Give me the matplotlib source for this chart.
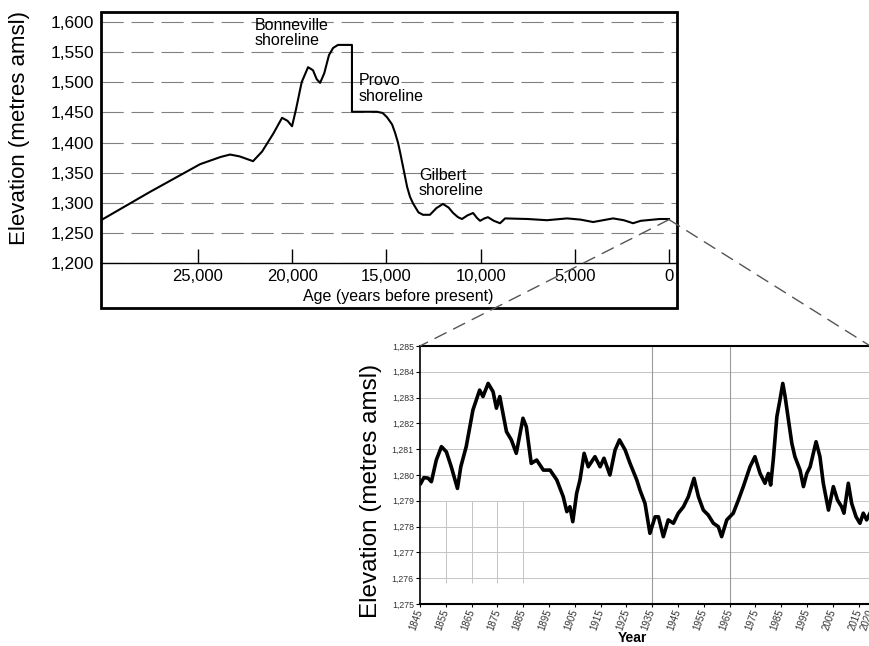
import matplotlib.pyplot as plt
from matplotlib.patches import Rectangle, ConnectionPatch
from matplotlib.ticker import FuncFormatter

plt.rcParams['font.family'] = ['Liberation Sans', 'DejaVu Sans']

# Lake Bonneville: age (years before present) vs. elevation (m)
age_bp = [30150, 27550, 24890, 23800, 23300, 22800, 22080, 21600, 21000, 20540,
          20250, 20010, 19800, 19500, 19160, 18900, 18700, 18520, 18300, 18050,
          17830, 17570, 16830, 16830, 15500, 15200, 14970, 14700, 14540, 14380,
          14250, 14120, 13900, 13750, 13590, 13300, 13060, 12690, 12350, 12000,
          11700, 11460, 11200, 10990, 10700, 10400, 10200, 10030, 9800, 9610,
          9300, 8970, 8700, 7500, 6480, 5410, 4700, 4030, 3500, 2970,
          2400, 1910, 1500, 1170, 500, 0]
lake_elev = [1271, 1318, 1364, 1376, 1380, 1377, 1369, 1385, 1415, 1441,
             1436, 1427, 1455, 1500, 1525, 1520, 1505, 1499, 1515, 1545,
             1557, 1562, 1562, 1451, 1451, 1449, 1442, 1430, 1416, 1399,
             1380, 1360, 1326, 1310, 1299, 1284, 1280, 1280, 1291, 1298,
             1292, 1283, 1276, 1273, 1279, 1283, 1275, 1270, 1274, 1276,
             1270, 1266, 1274, 1273, 1271, 1274, 1272, 1268, 1271, 1274,
             1271, 1266, 1270, 1271, 1273, 1273]

elev_ticks = [1200, 1250, 1300, 1350, 1400, 1450, 1500, 1550, 1600]
age_ticks = [25000, 20000, 15000, 10000, 5000, 0]

shorelines = ["Bonneville\nshoreline", "Provo\nshoreline", "Gilbert\nshoreline"]
shoreline_age = [21975, 16455, 13270]
shoreline_elev = [1607, 1515, 1358]

# Great Salt Lake: historic water level
year = [1845.3, 1846.5, 1848.1, 1849.4, 1851.3, 1853.3, 1855.2, 1857.1, 1859.5, 1860.8,
        1862.9, 1865.5, 1868.1, 1869.4, 1871.4, 1873.3, 1874.6, 1875.9, 1878.5, 1880.4,
        1882.3, 1884.9, 1886.2, 1888.1, 1890.2, 1892.8, 1895.4, 1898.0, 1900.5, 1901.9,
        1903.1, 1904.2, 1905.7, 1907.0, 1908.6, 1910.2, 1912.8, 1914.8, 1916.3, 1918.6,
        1920.6, 1922.3, 1924.5, 1926.4, 1929.0, 1930.3, 1932.2, 1934.1, 1936.1, 1937.4,
        1939.3, 1941.2, 1943.2, 1945.1, 1947.1, 1949.0, 1951.2, 1952.9, 1954.8, 1956.7,
        1958.7, 1960.6, 1961.9, 1963.9, 1966.4, 1968.4, 1970.3, 1972.9, 1974.8, 1976.8,
        1978.7, 1980.0, 1980.9, 1981.9, 1983.3, 1984.5, 1985.6, 1986.5, 1987.8, 1989.1,
        1990.3, 1992.3, 1993.6, 1994.9, 1996.2, 1998.5, 2000.0, 2001.3, 2003.3, 2005.2,
        2006.8, 2008.4, 2009.3, 2011.0, 2012.3, 2014.0, 2015.5, 2016.8, 2018.1, 2019.4]
level = [1279.68, 1279.90, 1279.88, 1279.74, 1280.58, 1281.10, 1280.90, 1280.32, 1279.48, 1280.32,
         1281.10, 1282.52, 1283.29, 1283.04, 1283.55, 1283.23, 1282.59, 1283.04, 1281.68, 1281.36,
         1280.84, 1282.20, 1281.87, 1280.45, 1280.58, 1280.19, 1280.19, 1279.81, 1279.16, 1278.58,
         1278.77, 1278.19, 1279.29, 1279.81, 1280.84, 1280.32, 1280.71, 1280.32, 1280.65, 1280.00,
         1280.97, 1281.36, 1280.97, 1280.45, 1279.81, 1279.40, 1278.90, 1277.74, 1278.38, 1278.38,
         1277.61, 1278.26, 1278.13, 1278.52, 1278.77, 1279.16, 1279.87, 1279.16, 1278.64, 1278.45,
         1278.13, 1278.00, 1277.61, 1278.26, 1278.52, 1279.03, 1279.55, 1280.32, 1280.71, 1280.06,
         1279.68, 1280.06, 1279.61, 1280.58, 1282.26, 1282.91, 1283.55, 1283.04, 1282.13, 1281.23,
         1280.71, 1280.19, 1279.55, 1280.06, 1280.32, 1281.29, 1280.71, 1279.68, 1278.64, 1279.55,
         1279.03, 1278.77, 1278.52, 1279.68, 1278.90, 1278.38, 1278.13, 1278.52, 1278.26, 1278.52]

level_ticks = list(range(1275, 1286))
year_ticks = list(range(1845, 2016, 10)) + [2020]

comma = FuncFormatter(lambda v, pos: f"{v:,.0f}")

fig = plt.figure(figsize=(8.7, 6.46), dpi=100)

# ---- top panel: Lake Bonneville ----
ax1 = fig.add_axes([0.1161, 0.5929, 0.6621, 0.3885])
ax1.plot(age_bp, lake_elev, color='black', lw=1.5, zorder=3)
ax1.set_xlim(30150, -425)
ax1.set_ylim(1200, 1616.6)
ax1.set_yticks(elev_ticks)
ax1.set_xticks(age_ticks)
ax1.yaxis.set_major_formatter(comma)
ax1.xaxis.set_major_formatter(comma)
ax1.grid(axis='y', color='#808080', lw=0.8, ls=(0, (20, 7)))
ax1.tick_params(axis='x', direction='in', length=10, width=1, pad=4, labelsize=12)
ax1.tick_params(axis='y', length=0, pad=5, labelsize=12.5)
for side in ['top', 'left', 'right']:
    ax1.spines[side].set_visible(False)
ax1.spines['bottom'].set_linewidth(1)

for label, a, e in zip(shorelines, shoreline_age, shoreline_elev):
    ax1.text(a, e, label, ha='left', va='top', fontsize=11.5, linespacing=1.05)

ax1.set_xlabel("Age (years before present)", fontsize=11.5)
ax1.xaxis.set_label_coords(0.516, -0.105)
ax1.set_ylabel("Elevation (metres amsl)", fontsize=16)
ax1.yaxis.set_label_coords(-0.123, 0.538)

# frame round the panel and its axis labels
fig.add_artist(Rectangle((0.1161, 0.5232), 0.6621, 0.4582, transform=fig.transFigure,
                         fill=False, lw=2, ec='black'))

# ---- lower panel: Great Salt Lake ----
ax2 = fig.add_axes([0.4828, 0.0650, 0.5249, 0.3994])
ax2.set_xlim(1845, 2022)
ax2.set_ylim(1275, 1285)
ax2.set_yticks(level_ticks)
ax2.yaxis.set_major_formatter(comma)
ax2.set_xticks(year_ticks)
ax2.set_xticklabels([str(y) for y in year_ticks], rotation=70, ha='right', va='center',
                    rotation_mode='anchor', fontsize=7, color='#333333')
ax2.tick_params(axis='y', length=3, pad=1.5, labelsize=6.3, labelcolor='#333333')
ax2.tick_params(axis='x', length=2, pad=2)
ax2.hlines(level_ticks[1:-1], 1845, 2022, color='#c4c4c4', lw=0.7, zorder=1)
ax2.vlines([1935, 1965], 1275, 1285, color='#9a9a9a', lw=0.8, zorder=1)
ax2.vlines([1855, 1865, 1875, 1885], 1275.8, 1279, color='#c4c4c4', lw=0.7, zorder=1)
ax2.plot(year, level, color='black', lw=2.6, zorder=3)
ax2.spines['right'].set_visible(False)
for side in ['top', 'bottom']:
    ax2.spines[side].set_linewidth(1.5)
ax2.spines['left'].set_linewidth(1.2)

ax2.set_xlabel("Year", fontsize=10, fontweight='bold')
ax2.xaxis.set_label_coords(0.466, -0.105)
ax2.set_ylabel("Elevation (metres amsl)", fontsize=17.5)
ax2.yaxis.set_label_coords(-0.083, 0.438)

# dashed lines from present-day level out to the lower panel
for corner in [(1845, 1285), (2019.5, 1285)]:
    con = ConnectionPatch(xyA=(0, 1272), coordsA=ax1.transData,
                          xyB=corner, coordsB=ax2.transData,
                          color='#555555', lw=1, ls=(0, (9, 6)))
    fig.add_artist(con)

fig.savefig("out.png", dpi=100)
